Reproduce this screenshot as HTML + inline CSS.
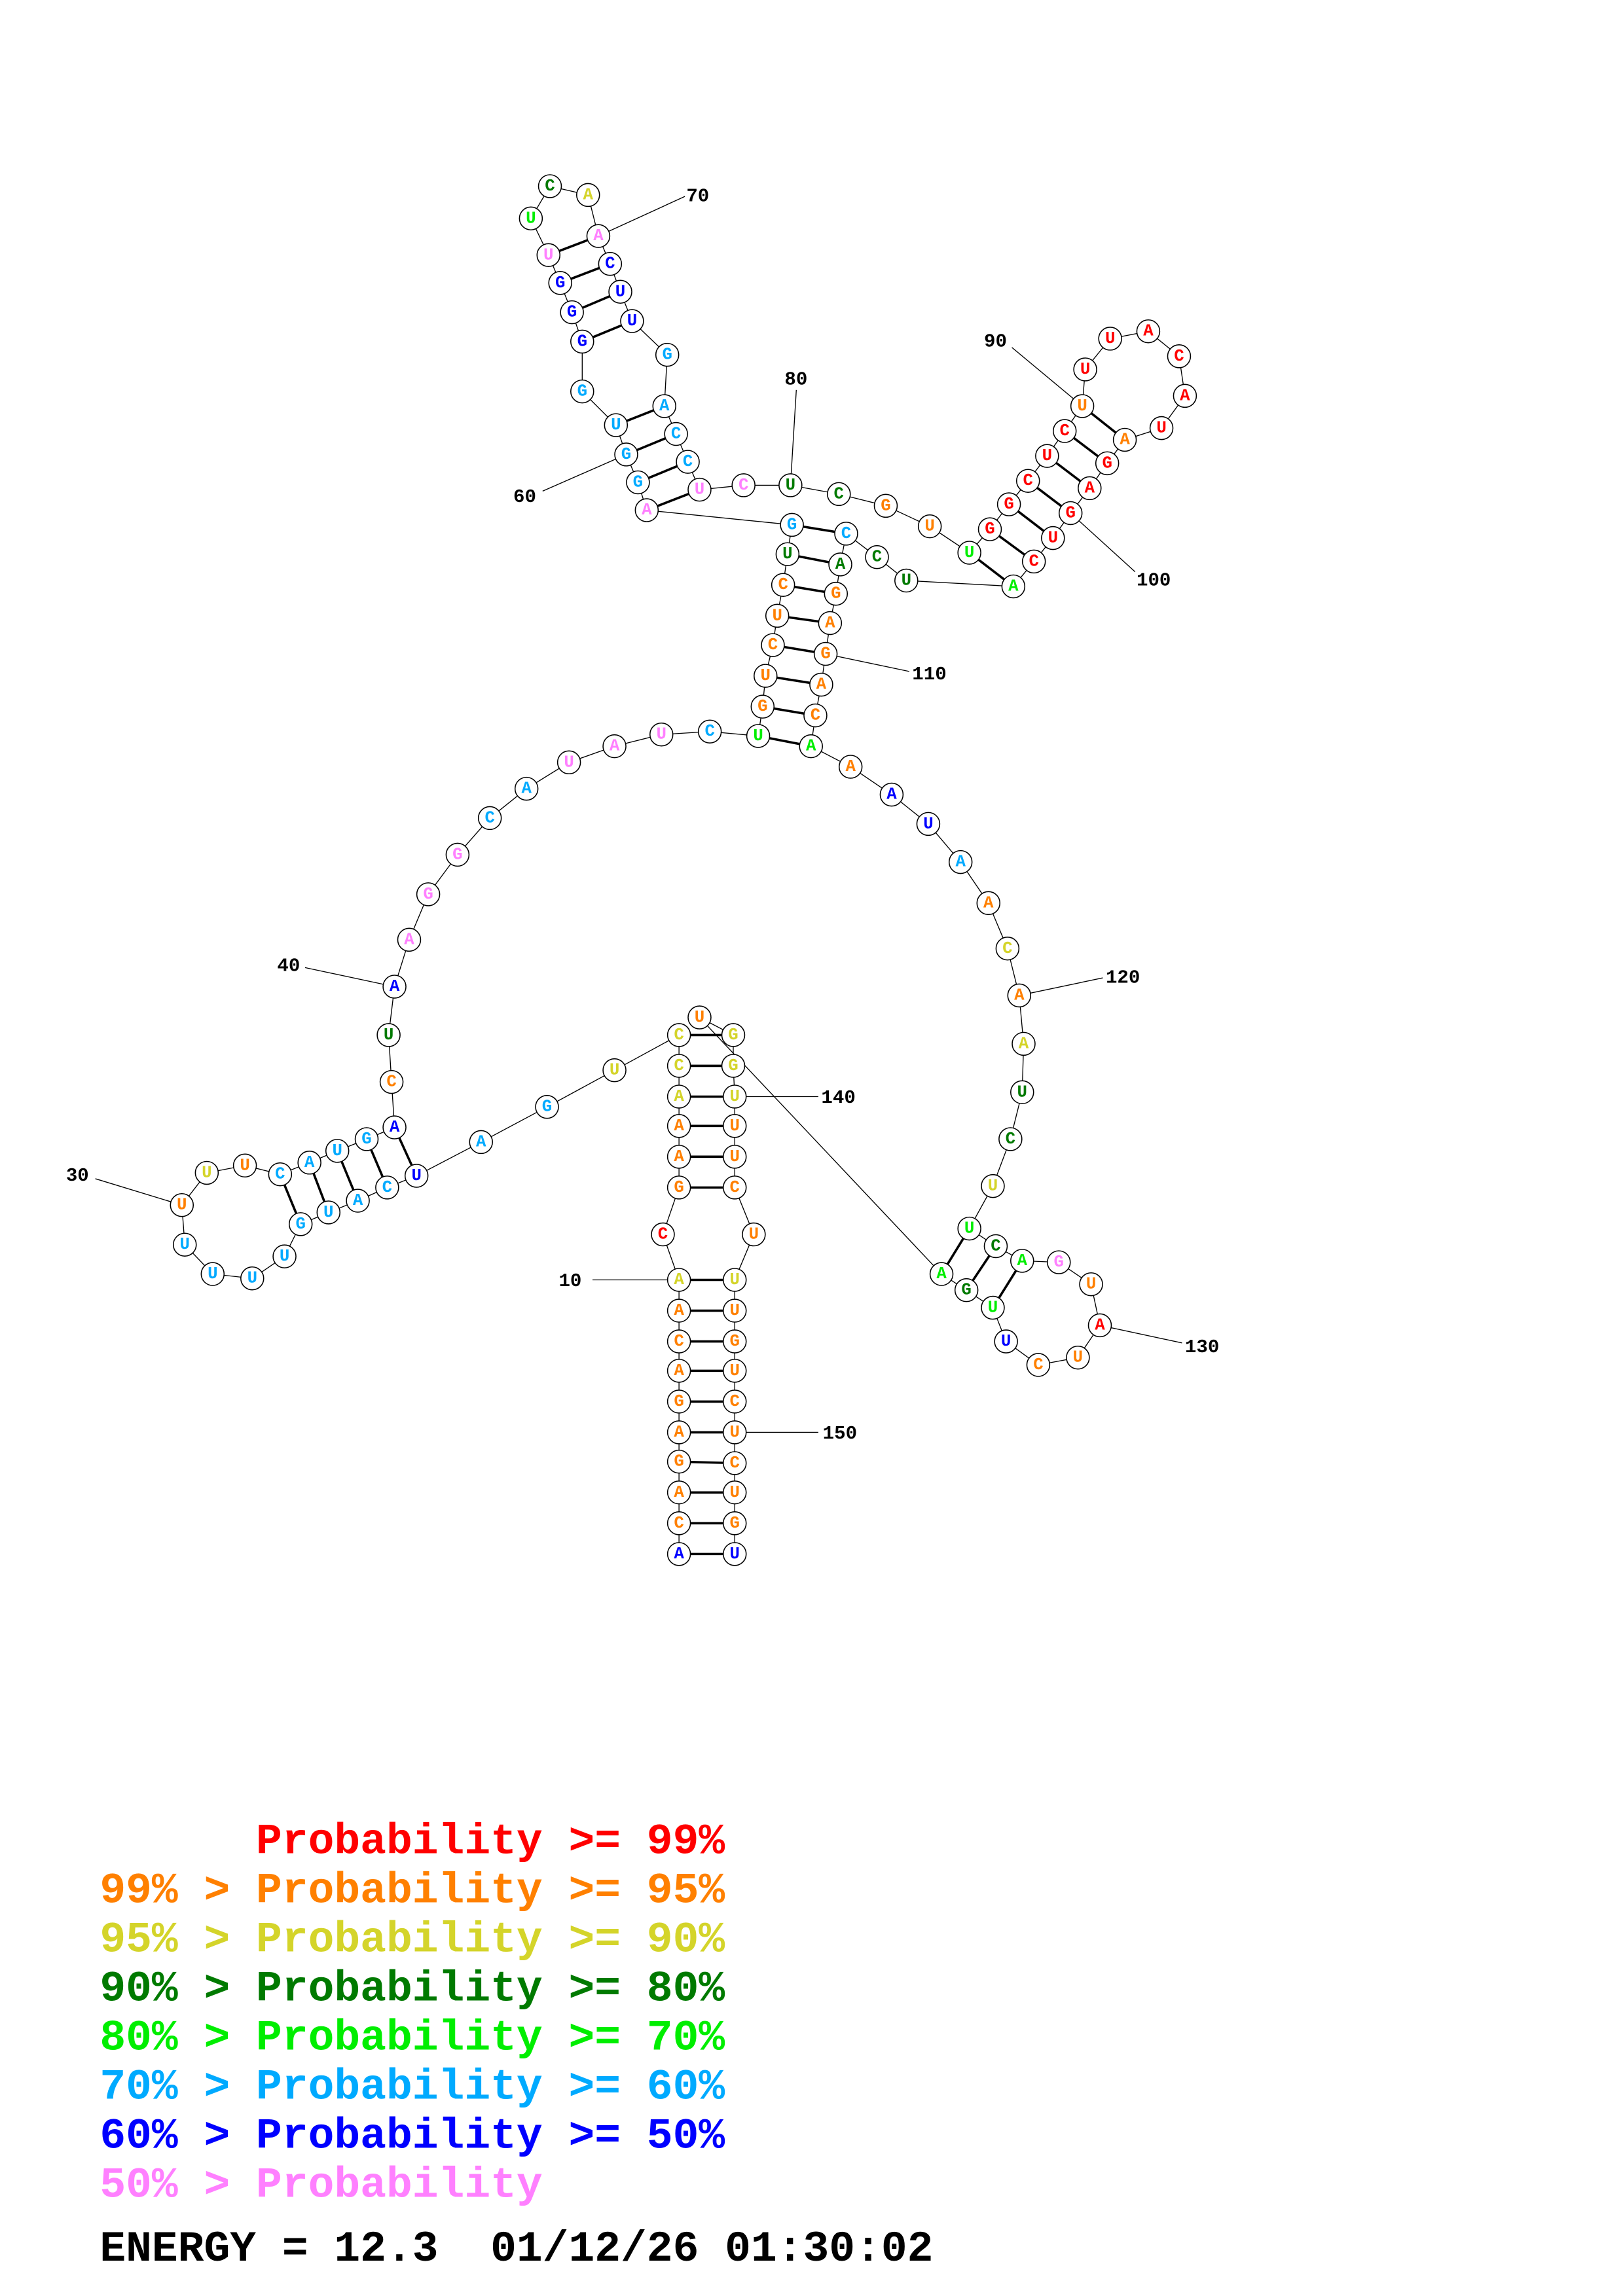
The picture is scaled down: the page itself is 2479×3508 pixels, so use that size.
<!DOCTYPE html>
<html><head><meta charset="utf-8"><style>
html,body{margin:0;padding:0;background:#fff;}
svg{display:block;}
.n circle{fill:#fff;stroke:#000;stroke-width:0.7;}
.n text{font-family:"Liberation Mono",monospace;font-weight:bold;font-size:11.5px;text-anchor:middle;dominant-baseline:central;}
.lb{font-family:"Liberation Mono",monospace;font-weight:bold;font-size:13px;fill:#000;dominant-baseline:central;}
.lg{font-family:"Liberation Mono",monospace;font-weight:bold;font-size:29.6px;white-space:pre;}
.r{fill:#ff0000}.o{fill:#ff8000}.y{fill:#d4d42a}.d{fill:#007a00}.g{fill:#00ee00}.c{fill:#00aaff}.b{fill:#0000ff}.p{fill:#ff80ff}
</style></head><body>
<svg width="2479" height="3508" viewBox="0 0 1106.7 1566.1" xmlns="http://www.w3.org/2000/svg">
<g stroke="#000" stroke-width="0.6" fill="none">
<polyline points="463,1060 463,1039 463,1018 463,997 463,977 463,956 463,935 463,915 463,894 463,873 452,842 463,810 463,789 463,768 463,748 463,727 463,706 419,730 373,755 328,779 284,802 264,810 244,819 224,827 205,835 194,857 172,872 145,869 126,849 124,822 141,800 167,795 191,801 211,793 230,785 250,777 269,769 267,738 265,706 269,673 279,641 292,610 312,583 334,558 359,538 388,520 419,509 451,501 484,499 517,502 520,482 522,461 527,440 530,420 534,399 537,378 540,358 441,348 435,329 427,310 420,290 397,267 397,233 390,213 382,193 374,174 362,149 375,127 401,133 408,161 416,180 423,199 431,219 455,242 453,277 461,296 469,315 477,334 507,331 539,331 572,337 604,345 634,359 661,377 675,361 688,344 701,328 714,311 726,294 738,277 740,252 757,231 783,226 804,243 808,270 792,292 767,300 755,316 743,333 730,350 718,367 705,383 691,400 618,396 598,380 577,364 573,385 570,405 566,425 563,446 560,467 556,488 553,509 580,523 608,542 633,562 655,588 674,616 687,647 695,679 698,712 697,745 689,777 677,809 661,838 679,850 697,860 722,861 744,876 750,904 735,926 708,931 686,915 677,892 659,880 642,869 477,694 500,706 500,727 501,748 501,768 501,789 501,810 514,842 501,873 501,894 501,915 501,935 501,956 501,977 501,998 501,1018 501,1039 501,1060"/>
<line x1="408" y1="161" x2="467" y2="134"/>
<line x1="539" y1="331" x2="543" y2="266"/>
<line x1="738" y1="277" x2="690" y2="237"/>
<line x1="730" y1="350" x2="774" y2="390"/>
<line x1="563" y1="446" x2="620" y2="458"/>
<line x1="695" y1="679" x2="752" y2="667"/>
<line x1="750" y1="904" x2="806" y2="916"/>
<line x1="501" y1="748" x2="558" y2="748"/>
<line x1="501" y1="977" x2="558" y2="977"/>
<line x1="463" y1="873" x2="404" y2="873"/>
<line x1="124" y1="822" x2="65" y2="804"/>
<line x1="269" y1="673" x2="208" y2="660"/>
<line x1="427" y1="310" x2="370" y2="335"/>
</g>
<g stroke="#000" stroke-width="1.6">
<line x1="463" y1="1060" x2="501" y2="1060"/><line x1="463" y1="1039" x2="501" y2="1039"/><line x1="463" y1="1018" x2="501" y2="1018"/><line x1="463" y1="997" x2="501" y2="998"/><line x1="463" y1="977" x2="501" y2="977"/><line x1="463" y1="956" x2="501" y2="956"/><line x1="463" y1="935" x2="501" y2="935"/><line x1="463" y1="915" x2="501" y2="915"/><line x1="463" y1="894" x2="501" y2="894"/><line x1="463" y1="873" x2="501" y2="873"/>
<line x1="463" y1="810" x2="501" y2="810"/><line x1="463" y1="789" x2="501" y2="789"/><line x1="463" y1="768" x2="501" y2="768"/><line x1="463" y1="748" x2="501" y2="748"/><line x1="463" y1="727" x2="500" y2="727"/><line x1="463" y1="706" x2="500" y2="706"/>
<line x1="284" y1="802" x2="269" y2="769"/><line x1="264" y1="810" x2="250" y2="777"/><line x1="244" y1="819" x2="230" y2="785"/><line x1="224" y1="827" x2="211" y2="793"/><line x1="205" y1="835" x2="191" y2="801"/>
<line x1="517" y1="502" x2="553" y2="509"/><line x1="520" y1="482" x2="556" y2="488"/><line x1="522" y1="461" x2="560" y2="467"/><line x1="527" y1="440" x2="563" y2="446"/><line x1="530" y1="420" x2="566" y2="425"/><line x1="534" y1="399" x2="570" y2="405"/><line x1="537" y1="378" x2="573" y2="385"/><line x1="540" y1="358" x2="577" y2="364"/>
<line x1="441" y1="348" x2="477" y2="334"/><line x1="435" y1="329" x2="469" y2="315"/><line x1="427" y1="310" x2="461" y2="296"/><line x1="420" y1="290" x2="453" y2="277"/>
<line x1="397" y1="233" x2="431" y2="219"/><line x1="390" y1="213" x2="423" y2="199"/><line x1="382" y1="193" x2="416" y2="180"/><line x1="374" y1="174" x2="408" y2="161"/>
<line x1="661" y1="377" x2="691" y2="400"/><line x1="675" y1="361" x2="705" y2="383"/><line x1="688" y1="344" x2="718" y2="367"/><line x1="701" y1="328" x2="730" y2="350"/><line x1="714" y1="311" x2="743" y2="333"/><line x1="726" y1="294" x2="755" y2="316"/><line x1="738" y1="277" x2="767" y2="300"/>
<line x1="661" y1="838" x2="642" y2="869"/><line x1="679" y1="850" x2="659" y2="880"/><line x1="697" y1="860" x2="677" y2="892"/>
</g>
<g class="n">
<g transform="translate(463,1060)"><circle r="7.8"/><text class="b">A</text></g>
<g transform="translate(463,1039)"><circle r="7.8"/><text class="o">C</text></g>
<g transform="translate(463,1018)"><circle r="7.8"/><text class="o">A</text></g>
<g transform="translate(463,997)"><circle r="7.8"/><text class="o">G</text></g>
<g transform="translate(463,977)"><circle r="7.8"/><text class="o">A</text></g>
<g transform="translate(463,956)"><circle r="7.8"/><text class="o">G</text></g>
<g transform="translate(463,935)"><circle r="7.8"/><text class="o">A</text></g>
<g transform="translate(463,915)"><circle r="7.8"/><text class="o">C</text></g>
<g transform="translate(463,894)"><circle r="7.8"/><text class="o">A</text></g>
<g transform="translate(463,873)"><circle r="7.8"/><text class="y">A</text></g>
<g transform="translate(452,842)"><circle r="7.8"/><text class="r">C</text></g>
<g transform="translate(463,810)"><circle r="7.8"/><text class="o">G</text></g>
<g transform="translate(463,789)"><circle r="7.8"/><text class="o">A</text></g>
<g transform="translate(463,768)"><circle r="7.8"/><text class="o">A</text></g>
<g transform="translate(463,748)"><circle r="7.8"/><text class="y">A</text></g>
<g transform="translate(463,727)"><circle r="7.8"/><text class="y">C</text></g>
<g transform="translate(463,706)"><circle r="7.8"/><text class="y">C</text></g>
<g transform="translate(419,730)"><circle r="7.8"/><text class="y">U</text></g>
<g transform="translate(373,755)"><circle r="7.8"/><text class="c">G</text></g>
<g transform="translate(328,779)"><circle r="7.8"/><text class="c">A</text></g>
<g transform="translate(284,802)"><circle r="7.8"/><text class="b">U</text></g>
<g transform="translate(264,810)"><circle r="7.8"/><text class="c">C</text></g>
<g transform="translate(244,819)"><circle r="7.8"/><text class="c">A</text></g>
<g transform="translate(224,827)"><circle r="7.8"/><text class="c">U</text></g>
<g transform="translate(205,835)"><circle r="7.8"/><text class="c">G</text></g>
<g transform="translate(194,857)"><circle r="7.8"/><text class="c">U</text></g>
<g transform="translate(172,872)"><circle r="7.8"/><text class="c">U</text></g>
<g transform="translate(145,869)"><circle r="7.8"/><text class="c">U</text></g>
<g transform="translate(126,849)"><circle r="7.8"/><text class="c">U</text></g>
<g transform="translate(124,822)"><circle r="7.8"/><text class="o">U</text></g>
<g transform="translate(141,800)"><circle r="7.8"/><text class="y">U</text></g>
<g transform="translate(167,795)"><circle r="7.8"/><text class="o">U</text></g>
<g transform="translate(191,801)"><circle r="7.8"/><text class="c">C</text></g>
<g transform="translate(211,793)"><circle r="7.8"/><text class="c">A</text></g>
<g transform="translate(230,785)"><circle r="7.8"/><text class="c">U</text></g>
<g transform="translate(250,777)"><circle r="7.8"/><text class="c">G</text></g>
<g transform="translate(269,769)"><circle r="7.8"/><text class="b">A</text></g>
<g transform="translate(267,738)"><circle r="7.8"/><text class="o">C</text></g>
<g transform="translate(265,706)"><circle r="7.8"/><text class="d">U</text></g>
<g transform="translate(269,673)"><circle r="7.8"/><text class="b">A</text></g>
<g transform="translate(279,641)"><circle r="7.8"/><text class="p">A</text></g>
<g transform="translate(292,610)"><circle r="7.8"/><text class="p">G</text></g>
<g transform="translate(312,583)"><circle r="7.8"/><text class="p">G</text></g>
<g transform="translate(334,558)"><circle r="7.8"/><text class="c">C</text></g>
<g transform="translate(359,538)"><circle r="7.8"/><text class="c">A</text></g>
<g transform="translate(388,520)"><circle r="7.8"/><text class="p">U</text></g>
<g transform="translate(419,509)"><circle r="7.8"/><text class="p">A</text></g>
<g transform="translate(451,501)"><circle r="7.8"/><text class="p">U</text></g>
<g transform="translate(484,499)"><circle r="7.8"/><text class="c">C</text></g>
<g transform="translate(517,502)"><circle r="7.8"/><text class="g">U</text></g>
<g transform="translate(520,482)"><circle r="7.8"/><text class="o">G</text></g>
<g transform="translate(522,461)"><circle r="7.8"/><text class="o">U</text></g>
<g transform="translate(527,440)"><circle r="7.8"/><text class="o">C</text></g>
<g transform="translate(530,420)"><circle r="7.8"/><text class="o">U</text></g>
<g transform="translate(534,399)"><circle r="7.8"/><text class="o">C</text></g>
<g transform="translate(537,378)"><circle r="7.8"/><text class="d">U</text></g>
<g transform="translate(540,358)"><circle r="7.8"/><text class="c">G</text></g>
<g transform="translate(441,348)"><circle r="7.8"/><text class="p">A</text></g>
<g transform="translate(435,329)"><circle r="7.8"/><text class="c">G</text></g>
<g transform="translate(427,310)"><circle r="7.8"/><text class="c">G</text></g>
<g transform="translate(420,290)"><circle r="7.8"/><text class="c">U</text></g>
<g transform="translate(397,267)"><circle r="7.8"/><text class="c">G</text></g>
<g transform="translate(397,233)"><circle r="7.8"/><text class="b">G</text></g>
<g transform="translate(390,213)"><circle r="7.8"/><text class="b">G</text></g>
<g transform="translate(382,193)"><circle r="7.8"/><text class="b">G</text></g>
<g transform="translate(374,174)"><circle r="7.8"/><text class="p">U</text></g>
<g transform="translate(362,149)"><circle r="7.8"/><text class="g">U</text></g>
<g transform="translate(375,127)"><circle r="7.8"/><text class="d">C</text></g>
<g transform="translate(401,133)"><circle r="7.8"/><text class="y">A</text></g>
<g transform="translate(408,161)"><circle r="7.8"/><text class="p">A</text></g>
<g transform="translate(416,180)"><circle r="7.8"/><text class="b">C</text></g>
<g transform="translate(423,199)"><circle r="7.8"/><text class="b">U</text></g>
<g transform="translate(431,219)"><circle r="7.8"/><text class="b">U</text></g>
<g transform="translate(455,242)"><circle r="7.8"/><text class="c">G</text></g>
<g transform="translate(453,277)"><circle r="7.8"/><text class="c">A</text></g>
<g transform="translate(461,296)"><circle r="7.8"/><text class="c">C</text></g>
<g transform="translate(469,315)"><circle r="7.8"/><text class="c">C</text></g>
<g transform="translate(477,334)"><circle r="7.8"/><text class="p">U</text></g>
<g transform="translate(507,331)"><circle r="7.8"/><text class="p">C</text></g>
<g transform="translate(539,331)"><circle r="7.8"/><text class="d">U</text></g>
<g transform="translate(572,337)"><circle r="7.8"/><text class="d">C</text></g>
<g transform="translate(604,345)"><circle r="7.8"/><text class="o">G</text></g>
<g transform="translate(634,359)"><circle r="7.8"/><text class="o">U</text></g>
<g transform="translate(661,377)"><circle r="7.8"/><text class="g">U</text></g>
<g transform="translate(675,361)"><circle r="7.8"/><text class="r">G</text></g>
<g transform="translate(688,344)"><circle r="7.8"/><text class="r">G</text></g>
<g transform="translate(701,328)"><circle r="7.8"/><text class="r">C</text></g>
<g transform="translate(714,311)"><circle r="7.8"/><text class="r">U</text></g>
<g transform="translate(726,294)"><circle r="7.8"/><text class="r">C</text></g>
<g transform="translate(738,277)"><circle r="7.8"/><text class="o">U</text></g>
<g transform="translate(740,252)"><circle r="7.8"/><text class="r">U</text></g>
<g transform="translate(757,231)"><circle r="7.8"/><text class="r">U</text></g>
<g transform="translate(783,226)"><circle r="7.8"/><text class="r">A</text></g>
<g transform="translate(804,243)"><circle r="7.8"/><text class="r">C</text></g>
<g transform="translate(808,270)"><circle r="7.8"/><text class="r">A</text></g>
<g transform="translate(792,292)"><circle r="7.8"/><text class="r">U</text></g>
<g transform="translate(767,300)"><circle r="7.8"/><text class="o">A</text></g>
<g transform="translate(755,316)"><circle r="7.8"/><text class="r">G</text></g>
<g transform="translate(743,333)"><circle r="7.8"/><text class="r">A</text></g>
<g transform="translate(730,350)"><circle r="7.8"/><text class="r">G</text></g>
<g transform="translate(718,367)"><circle r="7.8"/><text class="r">U</text></g>
<g transform="translate(705,383)"><circle r="7.8"/><text class="r">C</text></g>
<g transform="translate(691,400)"><circle r="7.8"/><text class="g">A</text></g>
<g transform="translate(618,396)"><circle r="7.8"/><text class="d">U</text></g>
<g transform="translate(598,380)"><circle r="7.8"/><text class="d">C</text></g>
<g transform="translate(577,364)"><circle r="7.8"/><text class="c">C</text></g>
<g transform="translate(573,385)"><circle r="7.8"/><text class="d">A</text></g>
<g transform="translate(570,405)"><circle r="7.8"/><text class="o">G</text></g>
<g transform="translate(566,425)"><circle r="7.8"/><text class="o">A</text></g>
<g transform="translate(563,446)"><circle r="7.8"/><text class="o">G</text></g>
<g transform="translate(560,467)"><circle r="7.8"/><text class="o">A</text></g>
<g transform="translate(556,488)"><circle r="7.8"/><text class="o">C</text></g>
<g transform="translate(553,509)"><circle r="7.8"/><text class="g">A</text></g>
<g transform="translate(580,523)"><circle r="7.8"/><text class="o">A</text></g>
<g transform="translate(608,542)"><circle r="7.8"/><text class="b">A</text></g>
<g transform="translate(633,562)"><circle r="7.8"/><text class="b">U</text></g>
<g transform="translate(655,588)"><circle r="7.8"/><text class="c">A</text></g>
<g transform="translate(674,616)"><circle r="7.8"/><text class="o">A</text></g>
<g transform="translate(687,647)"><circle r="7.8"/><text class="y">C</text></g>
<g transform="translate(695,679)"><circle r="7.8"/><text class="o">A</text></g>
<g transform="translate(698,712)"><circle r="7.8"/><text class="y">A</text></g>
<g transform="translate(697,745)"><circle r="7.8"/><text class="d">U</text></g>
<g transform="translate(689,777)"><circle r="7.8"/><text class="d">C</text></g>
<g transform="translate(677,809)"><circle r="7.8"/><text class="y">U</text></g>
<g transform="translate(661,838)"><circle r="7.8"/><text class="g">U</text></g>
<g transform="translate(679,850)"><circle r="7.8"/><text class="d">C</text></g>
<g transform="translate(697,860)"><circle r="7.8"/><text class="g">A</text></g>
<g transform="translate(722,861)"><circle r="7.8"/><text class="p">G</text></g>
<g transform="translate(744,876)"><circle r="7.8"/><text class="o">U</text></g>
<g transform="translate(750,904)"><circle r="7.8"/><text class="r">A</text></g>
<g transform="translate(735,926)"><circle r="7.8"/><text class="o">U</text></g>
<g transform="translate(708,931)"><circle r="7.8"/><text class="o">C</text></g>
<g transform="translate(686,915)"><circle r="7.8"/><text class="b">U</text></g>
<g transform="translate(677,892)"><circle r="7.8"/><text class="g">U</text></g>
<g transform="translate(659,880)"><circle r="7.8"/><text class="d">G</text></g>
<g transform="translate(642,869)"><circle r="7.8"/><text class="g">A</text></g>
<g transform="translate(477,694)"><circle r="7.8"/><text class="o">U</text></g>
<g transform="translate(500,706)"><circle r="7.8"/><text class="y">G</text></g>
<g transform="translate(500,727)"><circle r="7.8"/><text class="y">G</text></g>
<g transform="translate(501,748)"><circle r="7.8"/><text class="y">U</text></g>
<g transform="translate(501,768)"><circle r="7.8"/><text class="o">U</text></g>
<g transform="translate(501,789)"><circle r="7.8"/><text class="o">U</text></g>
<g transform="translate(501,810)"><circle r="7.8"/><text class="o">C</text></g>
<g transform="translate(514,842)"><circle r="7.8"/><text class="o">U</text></g>
<g transform="translate(501,873)"><circle r="7.8"/><text class="y">U</text></g>
<g transform="translate(501,894)"><circle r="7.8"/><text class="o">U</text></g>
<g transform="translate(501,915)"><circle r="7.8"/><text class="o">G</text></g>
<g transform="translate(501,935)"><circle r="7.8"/><text class="o">U</text></g>
<g transform="translate(501,956)"><circle r="7.8"/><text class="o">C</text></g>
<g transform="translate(501,977)"><circle r="7.8"/><text class="o">U</text></g>
<g transform="translate(501,998)"><circle r="7.8"/><text class="o">C</text></g>
<g transform="translate(501,1018)"><circle r="7.8"/><text class="o">U</text></g>
<g transform="translate(501,1039)"><circle r="7.8"/><text class="o">G</text></g>
<g transform="translate(501,1060)"><circle r="7.8"/><text class="b">U</text></g>
</g>
<g class="lb">
<text x="468" y="134">70</text>
<text x="535" y="259">80</text>
<text x="671" y="233">90</text>
<text x="775" y="396">100</text>
<text x="622" y="460">110</text>
<text x="754" y="667">120</text>
<text x="808" y="919">130</text>
<text x="560" y="749">140</text>
<text x="561" y="978">150</text>
<text x="381" y="874">10</text>
<text x="45" y="802">30</text>
<text x="189" y="659">40</text>
<text x="350" y="339">60</text>
</g>
<g class="lg">
<text x="68" y="1264" class="r" xml:space="preserve">      Probability &gt;= 99%</text>
<text x="68" y="1297.5" class="o" xml:space="preserve">99% &gt; Probability &gt;= 95%</text>
<text x="68" y="1331" class="y" xml:space="preserve">95% &gt; Probability &gt;= 90%</text>
<text x="68" y="1364.5" class="d" xml:space="preserve">90% &gt; Probability &gt;= 80%</text>
<text x="68" y="1398" class="g" xml:space="preserve">80% &gt; Probability &gt;= 70%</text>
<text x="68" y="1431.5" class="c" xml:space="preserve">70% &gt; Probability &gt;= 60%</text>
<text x="68" y="1465" class="b" xml:space="preserve">60% &gt; Probability &gt;= 50%</text>
<text x="68" y="1498.5" class="p" xml:space="preserve">50% &gt; Probability</text>
<text x="68" y="1542" fill="#000" xml:space="preserve">ENERGY = 12.3  01/12/26 01:30:02</text>
</g>
</svg>
</body></html>
